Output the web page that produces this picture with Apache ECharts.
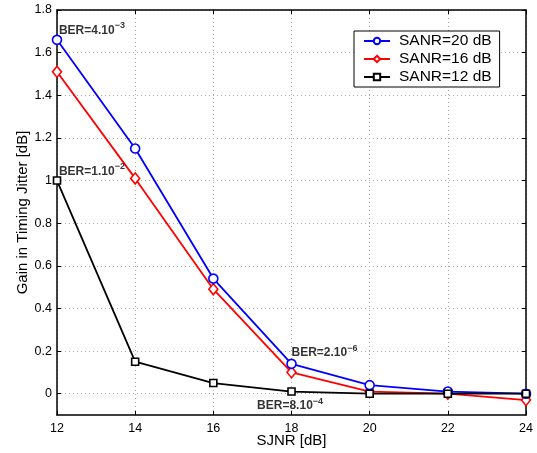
<!DOCTYPE html>
<html><head><meta charset="utf-8">
<script src="https://cdn.jsdelivr.net/npm/echarts@6/dist/echarts.min.js"></script>
<style>html,body{margin:0;padding:0;background:#fff}#c{width:537px;height:453px}</style>
</head><body><div id="c"></div>
<script>
const sjnr = [12, 14, 16, 18, 20, 22, 24];
const sanr20 = [1.66, 1.15, 0.54, 0.14, 0.04, 0.01, 0.00];
const sanr16 = [1.51, 1.01, 0.49, 0.10, 0.01, 0.00, -0.03];
const sanr12 = [1.00, 0.15, 0.05, 0.01, 0.00, 0.00, 0.00];
const yTicks = [0, 0.2, 0.4, 0.6, 0.8, 1, 1.2, 1.4, 1.6, 1.8];
const notes = [
  {x: 12.05, y: 1.705, base: 'BER=4.10', exp: '\u22123'},
  {x: 12.05, y: 1.043, base: 'BER=1.10', exp: '\u22122'},
  {x: 18.0, y: 0.19, base: 'BER=2.10', exp: '\u22126'},
  {x: 17.12, y: -0.058, base: 'BER=8.10', exp: '\u22124'}
];
const FONT = 'Liberation Sans, Arial, Helvetica, sans-serif';
const pair = (a) => sjnr.map((x, i) => [x, a[i]]);
const chart = echarts.init(document.getElementById('c'));
const gridLine = {show: true, lineStyle: {color: '#aaaaaa', type: [1, 3], width: 1}};
const mkLine = (name, arr, col, sym, size, z) => ({
  name, type: 'line', data: pair(arr), color: col,
  symbol: sym, symbolSize: size, showAllSymbol: true, z,
  lineStyle: {width: 1.8, color: col},
  itemStyle: {color: '#fff', borderColor: col, borderWidth: 1.6}
});
chart.setOption({
  animation: false,
  backgroundColor: '#fff',
  grid: {left: 57, right: 11, top: 10, bottom: 38, outerBoundsMode: 'none', containLabel: false},
  legend: {
    left: 354, top: 31, orient: 'vertical',
    data: ['SANR=20 dB', 'SANR=16 dB', 'SANR=12 dB'],
    borderColor: '#000', borderWidth: 1, backgroundColor: '#fff',
    padding: [2, 8, 2, 9], itemGap: 2, itemWidth: 26, itemHeight: 8,
    textStyle: {fontFamily: FONT, fontSize: 15.5, color: '#000', padding: [0, 0, 0, 4]}
  },
  xAxis: [{
    type: 'value', min: 12, max: 24, interval: 2,
    name: 'SJNR [dB]', nameLocation: 'middle', nameGap: 18, nameMoveOverlap: false,
    nameTextStyle: {fontFamily: FONT, fontSize: 15, color: '#000'},
    axisLine: {onZero: false, lineStyle: {color: '#000', width: 1.5}},
    axisTick: {inside: true, length: 4, lineStyle: {color: '#000'}},
    axisLabel: {fontFamily: FONT, fontSize: 12.5, color: '#000', margin: 7},
    splitLine: gridLine
  }, {
    type: 'value', min: 12, max: 24, interval: 2, position: 'top',
    axisLine: {onZero: false, lineStyle: {color: '#000', width: 1.5}},
    axisTick: {inside: true, length: 4, lineStyle: {color: '#000'}},
    axisLabel: {show: false}, splitLine: {show: false}
  }],
  yAxis: [{
    type: 'value', min: -0.1, max: 1.8,
    name: 'Gain in Timing Jitter [dB]', nameLocation: 'middle', nameGap: 27, nameMoveOverlap: false,
    nameTextStyle: {fontFamily: FONT, fontSize: 15, color: '#000'},
    axisLine: {show: true, onZero: false, lineStyle: {color: '#000', width: 1.5}},
    axisTick: {show: true, inside: true, length: 4, lineStyle: {color: '#000'}, customValues: yTicks},
    axisLabel: {fontFamily: FONT, fontSize: 12.5, color: '#000', margin: 5, customValues: yTicks,
      formatter: (v) => String(Math.round(v * 10) / 10)},
    splitLine: gridLine
  }, {
    type: 'value', min: -0.1, max: 1.8, position: 'right',
    axisLine: {show: true, onZero: false, lineStyle: {color: '#000', width: 1.5}},
    axisTick: {show: true, inside: true, length: 4, lineStyle: {color: '#000'}, customValues: yTicks},
    axisLabel: {show: false, customValues: yTicks}, splitLine: {show: false}
  }],
  series: [
    mkLine('SANR=20 dB', sanr20, '#0000ff', 'circle', 9, 3),
    mkLine('SANR=16 dB', sanr16, '#ff0000', 'diamond', [9, 11], 2),
    mkLine('SANR=12 dB', sanr12, '#000000', 'rect', 7, 4),
    {type: 'scatter', data: notes.map(n => ({value: [n.x, n.y], base: n.base, exp: n.exp})),
     symbolSize: 0, silent: true, z: 10,
     label: {show: true, position: 'right', distance: 0,
       formatter: (p) => '{b|' + p.data.base + '}{e|' + p.data.exp + '}',
       rich: {
         b: {fontFamily: FONT, fontSize: 12, fontWeight: 'bold', color: '#000'},
         e: {fontFamily: FONT, fontSize: 9, fontWeight: 'bold', color: '#000', verticalAlign: 'bottom', padding: [0, 0, 10, 0]}
       }}}
  ]
});
</script></body></html>
